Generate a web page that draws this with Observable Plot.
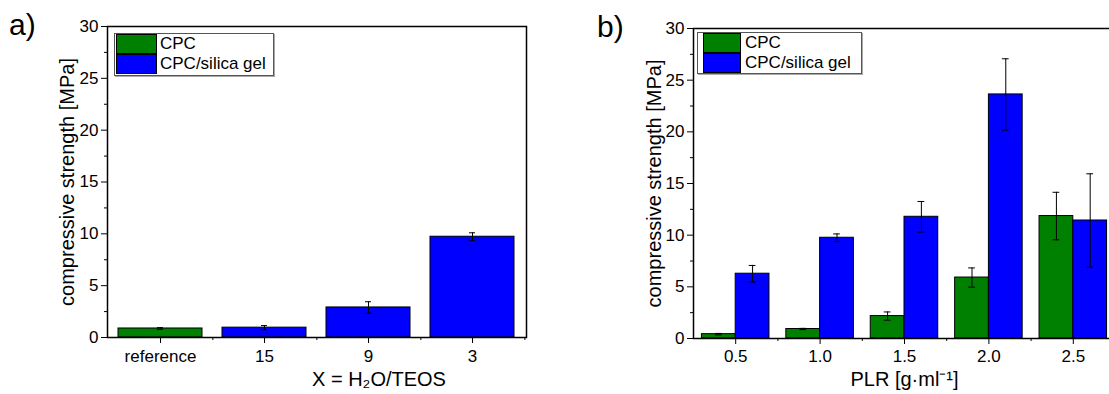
<!DOCTYPE html>
<html><head><meta charset="utf-8">
<script src="https://cdn.jsdelivr.net/npm/d3@7"></script>
<script src="https://cdn.jsdelivr.net/npm/@observablehq/plot@0.6"></script>
<style>
html,body{margin:0;padding:0;background:#fff;overflow:hidden;width:1109px;height:394px;}
#root{position:relative;width:1109px;height:394px;overflow:hidden;font-family:"Liberation Sans",Arial,sans-serif;color:#000;}
.panel{position:absolute;top:0;}
.tag{position:absolute;font-size:30px;line-height:30px;}
.legend{position:absolute;border:1px solid #555;box-shadow:1px 1px 0 #aaa;background:#fff;box-sizing:border-box;}
.sw{position:absolute;border:1px solid #000;box-sizing:border-box;}
.lt{position:absolute;font-size:17px;line-height:20px;white-space:nowrap;}
</style></head><body><div id="root"></div>
<script>
// ---- data ----
const series = ["CPC", "CPC/silica gel"];
const seriesColors = ["#008000", "#0000ff"];
// panel a
const catsA = ["reference", "15", "9", "3"];
const seriesA = ["CPC", "CPC/silica gel", "CPC/silica gel", "CPC/silica gel"];
const valuesA = [0.87, 0.95, 2.9, 9.72];
const errorsA = [0.08, 0.2, 0.55, 0.38];
// panel b
const plrB = [0.5, 1.0, 1.5, 2.0, 2.5];
const cpcB = [0.42, 0.92, 2.17, 5.9, 11.85];
const cpcErrB = [0.07, 0.06, 0.4, 0.93, 2.3];
const silicaB = [6.27, 9.75, 11.78, 23.62, 11.42];
const silicaErrB = [0.8, 0.37, 1.48, 3.45, 4.52];
// ticks
const yTicks = [0, 5, 10, 15, 20, 25, 30];
const yMinor = [2.5, 7.5, 12.5, 17.5, 22.5, 27.5];
const xTicksB = [0.5, 1.0, 1.5, 2.0, 2.5];
const xMinorB = [0.75, 1.25, 1.75, 2.25, 2.75];
const yLabel = "compressive strength [MPa]";
const xLabelA = "X = H\u2082O/TEOS";
const xLabelB = "PLR [g\u00B7ml\u207B\u00B9]";

const root = document.getElementById("root");
const font = '"Liberation Sans", Arial, sans-serif';
const color = {domain: series, range: seriesColors};

// ---- panel a ----
const tableA = catsA.map((c, i) => ({cat: c, series: seriesA[i], value: valuesA[i], err: errorsA[i]}));
const WA = 555, mlA = 107, mrA = 29;
const stepA = (WA - mlA - mrA) / catsA.length;
const plotA = Plot.plot({
  width: WA, height: 394,
  marginLeft: mlA, marginRight: mrA, marginTop: 26, marginBottom: 57,
  style: {fontSize: "17px", fontFamily: font, color: "#000", background: "transparent", overflow: "visible"},
  x: {type: "band", domain: catsA, paddingInner: 0.19, paddingOuter: 0.095, axis: null},
  y: {domain: [0, 30], axis: null},
  color,
  marks: [
    Plot.barY(tableA, {x: "cat", y: "value", fill: "series", stroke: "#000", strokeWidth: 1}),
    Plot.ruleX(tableA, {x: "cat", y1: d => d.value - d.err, y2: d => d.value + d.err, stroke: "#000", strokeWidth: 1}),
    Plot.tickY(tableA, {x: "cat", y: d => d.value - d.err, insetLeft: 39, insetRight: 39, stroke: "#000"}),
    Plot.tickY(tableA, {x: "cat", y: d => d.value + d.err, insetLeft: 39, insetRight: 39, stroke: "#000"}),
    Plot.axisY({ticks: yTicks, tickSize: 6, tickPadding: 3, label: null}),
    Plot.axisY({ticks: yMinor, tickSize: 3, tickFormat: () => "", label: null}),
    Plot.axisX({tickSize: 6, tickPadding: 6, label: null}),
    Plot.axisX({tickSize: 3, tickFormat: () => "", label: null, dx: stepA / 2}),
    Plot.frame({stroke: "#000", strokeWidth: 1.5}),
    Plot.text([yLabel], {text: d => d, frameAnchor: "left", textAnchor: "middle", dx: -40, rotate: -90, fontSize: 20}),
    Plot.text([xLabelA], {text: d => d, frameAnchor: "bottom", dy: 48, dx: 62, fontSize: 20})
  ]
});
plotA.classList.add("panel");
plotA.style.left = "0px";
root.appendChild(plotA);

// ---- panel b ----
const tableB = [];
plrB.forEach((p, i) => {
  tableB.push({plr: p, series: series[0], value: cpcB[i], err: cpcErrB[i]});
  tableB.push({plr: p, series: series[1], value: silicaB[i], err: silicaErrB[i]});
});
const barW = 0.2;      // bar width in PLR units
const capW = 0.02;     // half cap width in PLR units
const left = d => d.series === series[0] ? d.plr - barW : d.plr;
const mid = d => left(d) + barW / 2;
const plotB = Plot.plot({
  width: 600, height: 394,
  marginLeft: 138, marginRight: 40, marginTop: 28, marginBottom: 56,
  style: {fontSize: "17px", fontFamily: font, color: "#000", background: "transparent", overflow: "visible"},
  x: {domain: [0.25, 2.75], axis: null},
  y: {domain: [0, 30], axis: null},
  color,
  marks: [
    Plot.rectY(tableB, {x1: left, x2: d => left(d) + barW, y: "value", fill: "series", stroke: "#000", strokeWidth: 1}),
    Plot.ruleX(tableB, {x: mid, y1: d => d.value - d.err, y2: d => d.value + d.err, stroke: "#000", strokeWidth: 1}),
    Plot.ruleY(tableB, {y: d => d.value - d.err, x1: d => mid(d) - capW, x2: d => mid(d) + capW, stroke: "#000"}),
    Plot.ruleY(tableB, {y: d => d.value + d.err, x1: d => mid(d) - capW, x2: d => mid(d) + capW, stroke: "#000"}),
    Plot.axisY({ticks: yTicks, tickSize: 6, tickPadding: 3, label: null}),
    Plot.axisY({ticks: yMinor, tickSize: 3, tickFormat: () => "", label: null}),
    Plot.axisX({ticks: xTicksB, tickFormat: d3.format(".1f"), tickSize: 6, tickPadding: 5, label: null}),
    Plot.axisX({ticks: xMinorB, tickSize: 3, tickFormat: () => "", label: null}),
    Plot.frame({stroke: "#000", strokeWidth: 1.5}),
    Plot.text([yLabel], {text: d => d, frameAnchor: "left", textAnchor: "middle", dx: -39, rotate: -90, fontSize: 20}),
    Plot.text([xLabelB], {text: d => d, frameAnchor: "bottom", dy: 47, fontSize: 20})
  ]
});
plotB.classList.add("panel");
plotB.style.left = "555px";
root.appendChild(plotB);

// ---- panel tags ----
function tag(txt, x, y) {
  const d = document.createElement("div");
  d.className = "tag"; d.textContent = txt;
  d.style.left = x + "px"; d.style.top = y + "px";
  root.appendChild(d);
}
tag("a)", 9, 10);
tag("b)", 597, 12);

// ---- legends ----
function legend(x, y, w, h, swX, swW, txtX, rows) {
  const box = document.createElement("div");
  box.className = "legend";
  Object.assign(box.style, {left: x + "px", top: y + "px", width: w + "px", height: h + "px"});
  series.forEach((s, i) => {
    const sw = document.createElement("div");
    sw.className = "sw";
    Object.assign(sw.style, {left: swX + "px", top: rows[i] + "px", width: swW + "px", height: "20px", background: seriesColors[i]});
    box.appendChild(sw);
    const t = document.createElement("div");
    t.className = "lt"; t.textContent = s;
    Object.assign(t.style, {left: txtX + "px", top: rows[i] + "px"});
    box.appendChild(t);
  });
  root.appendChild(box);
}
legend(114, 33, 160, 43, 1, 41, 45, [0, 20]);
legend(697, 32, 165, 42, 5, 38, 47, [0, 20]);
</script>
</body></html>
